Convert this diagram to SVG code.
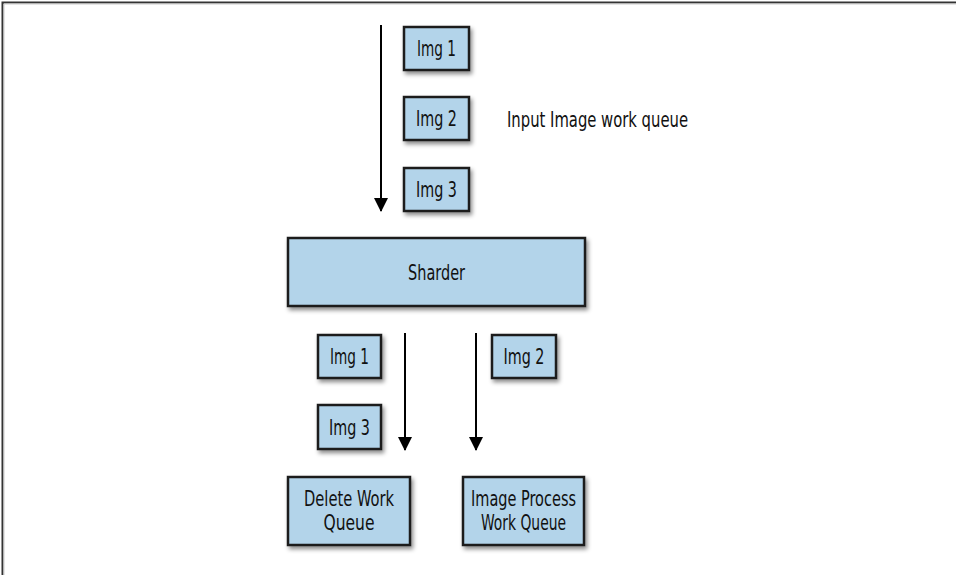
<svg xmlns="http://www.w3.org/2000/svg" width="956" height="575" viewBox="0 0 956 575">
<defs>
<filter id="sh" x="-20%" y="-20%" width="140%" height="150%">
<feDropShadow dx="2" dy="3" stdDeviation="2" flood-color="#000" flood-opacity="0.45"/>
</filter>
<marker id="ah" markerWidth="14" markerHeight="14" viewBox="0 0 14 14" refX="13" refY="7" orient="auto" markerUnits="userSpaceOnUse">
<path d="M0,0 L14,7 L0,14 Z" fill="#000"/>
</marker>
<style>
.box{fill:#b3d4ea;stroke:#1a1a1a;stroke-width:2.5;filter:url(#sh)}
.t{font-family:"Liberation Sans Narrow","DejaVu Sans Condensed","Liberation Sans",sans-serif;font-size:21.5px;fill:#111;text-anchor:middle}
.l{text-anchor:start}
.c{stroke:#000;stroke-width:2;fill:none;marker-end:url(#ah)}
</style>
</defs>
<rect width="956" height="575" fill="#fff"/>
<path d="M2.5,575 L2.5,2.5 L956,2.5" fill="none" stroke="#333" stroke-width="2"/>
<path d="M4,575 L4,4 L956,4" fill="none" stroke="#ccc" stroke-width="1"/>
<g id="connectors">
<line class="c" x1="381" y1="25" x2="381" y2="211"/>
<line class="c" x1="405" y1="333" x2="405" y2="450"/>
<line class="c" x1="476" y1="333" x2="476" y2="450"/>
</g>
<g id="in-img1"><rect class="box" x="404" y="27" width="65" height="43"/><text class="t" x="436.5" y="56" textLength="39" lengthAdjust="spacingAndGlyphs">Img 1</text></g>
<g id="in-img2"><rect class="box" x="404" y="97" width="65" height="43"/><text class="t" x="436.5" y="126" textLength="41" lengthAdjust="spacingAndGlyphs">Img 2</text></g>
<g id="in-img3"><rect class="box" x="404" y="168" width="65" height="43"/><text class="t" x="436.5" y="197" textLength="41" lengthAdjust="spacingAndGlyphs">Img 3</text></g>
<g id="label-input"><text class="t l" x="507" y="126.5" textLength="181" lengthAdjust="spacingAndGlyphs">Input Image work queue</text></g>
<g id="sharder"><rect class="box" x="288" y="238" width="297" height="68"/><text class="t" x="436.5" y="279.5" textLength="57" lengthAdjust="spacingAndGlyphs">Sharder</text></g>
<g id="out-img1"><rect class="box" x="318" y="335" width="63" height="43"/><text class="t" x="349.5" y="363.5" textLength="39" lengthAdjust="spacingAndGlyphs">Img 1</text></g>
<g id="out-img3"><rect class="box" x="318" y="405" width="63" height="44"/><text class="t" x="349.5" y="434.5" textLength="41" lengthAdjust="spacingAndGlyphs">Img 3</text></g>
<g id="out-img2"><rect class="box" x="492" y="335" width="64" height="43"/><text class="t" x="524" y="363.5" textLength="41" lengthAdjust="spacingAndGlyphs">Img 2</text></g>
<g id="delete-queue"><rect class="box" x="288" y="477" width="122" height="68"/><text class="t" x="349" y="505.5" textLength="90" lengthAdjust="spacingAndGlyphs">Delete Work</text><text class="t" x="349" y="529.5" textLength="51" lengthAdjust="spacingAndGlyphs">Queue</text></g>
<g id="process-queue"><rect class="box" x="463" y="477" width="121" height="68"/><text class="t" x="523.5" y="505.5" textLength="105" lengthAdjust="spacingAndGlyphs">Image Process</text><text class="t" x="523.5" y="529.5" textLength="85" lengthAdjust="spacingAndGlyphs">Work Queue</text></g>
</svg>
